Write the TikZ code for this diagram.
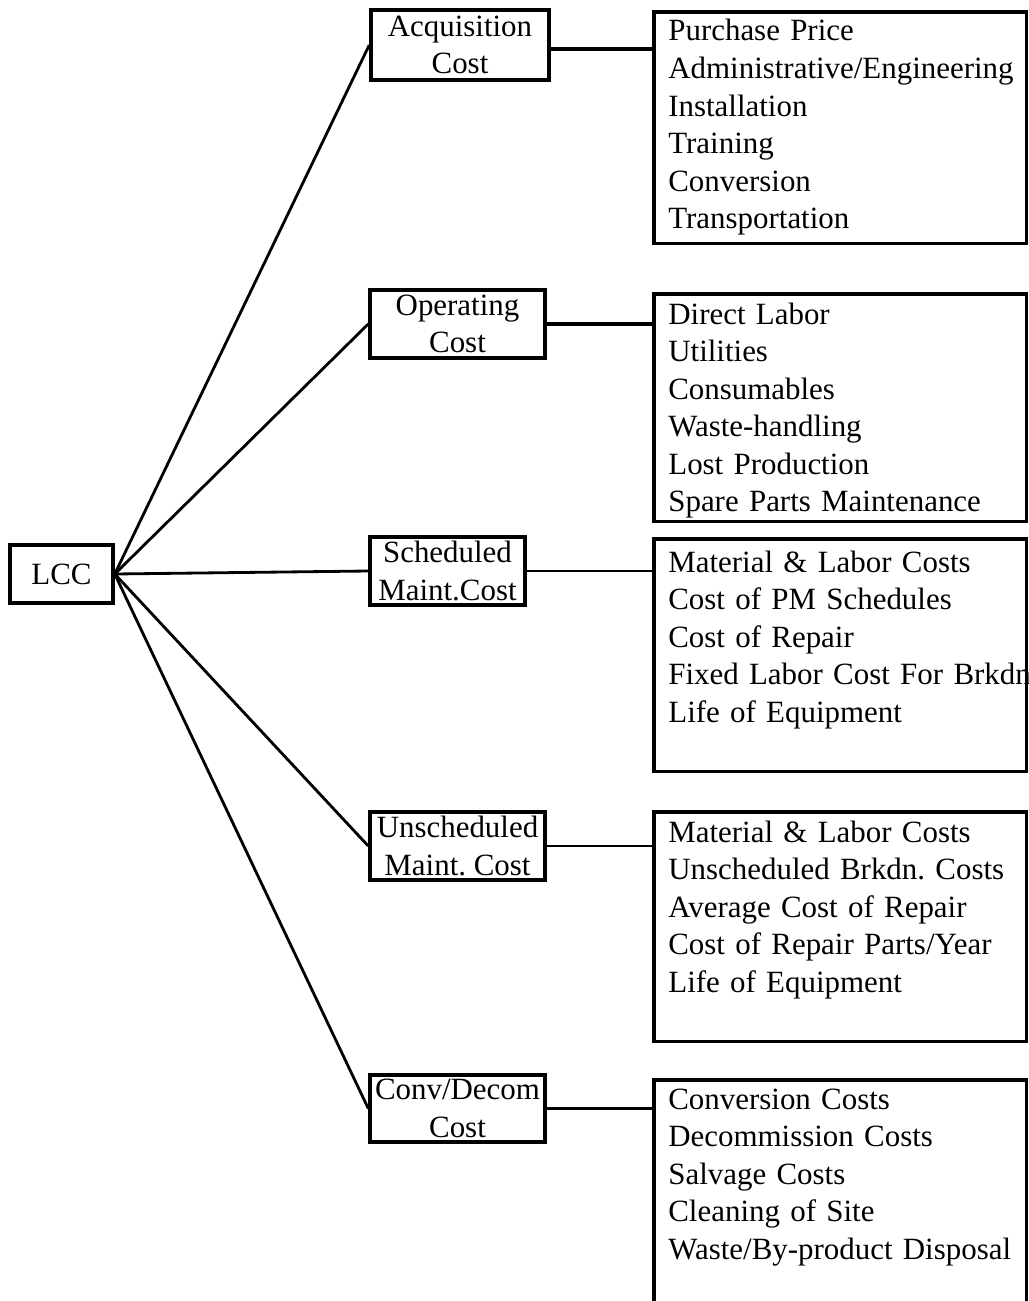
\documentclass[tikz,border=0pt]{standalone}
\usepackage{fontspec}
\setmainfont{Liberation Serif}
\frenchspacing
\usepackage{tikz}
\tikzset{
  every picture/.style={line join=miter, line cap=butt},
  costfont/.style={font=\fontsize{17.6}{21.4}\selectfont},
  rootbox/.style={draw, line width=2pt, costfont, inner sep=0pt, minimum width=2.06cm, minimum height=1.16cm},
  branchbox/.style={draw, line width=2pt, costfont, inner sep=0pt, align=center, minimum height=1.36cm},
  listbox/.style={draw, line width=2pt, anchor=north west, inner sep=0pt, minimum width=7.46cm},
  items/.style={costfont, anchor=base west, inner sep=0pt, text width=9cm, align=left},
  spoke/.style={line width=1.6pt},
  thickjoin/.style={line width=2pt},
  thinjoin/.style={line width=0.8pt},
}

\begin{document}
\begin{tikzpicture}[x=0.02cm,y=-0.02cm]
\useasboundingbox (0,0) rectangle (1028,1301);
\node[rootbox] (lcc) at (61.5,574) {LCC};
\node[branchbox, minimum width=3.56cm, minimum height=1.4cm] (acq) at (460,45) {Acquisition\\Cost};
\node[branchbox, minimum width=3.5cm] (oper) at (457.5,324) {Operating\\Cost};
\node[branchbox, minimum width=3.1cm] (sched) at (447.5,571) {Scheduled\\Maint.Cost};
\node[branchbox, minimum width=3.5cm] (unsched) at (457.5,846) {Unscheduled\\Maint. Cost};
\node[branchbox, minimum width=3.5cm, minimum height=1.34cm] (decom) at (457.5,1108.5) {Conv/Decom\\Cost};

\node[listbox, minimum height=4.64cm] (acqlist) at (652,10) {};
\node[listbox, minimum height=4.56cm] (operlist) at (652,292) {};
\node[listbox, minimum height=4.66cm] (schedlist) at (652,537) {};
\node[listbox, minimum height=4.6cm] (unschedlist) at (652,810) {};
\node[listbox, minimum height=4.84cm] (decomlist) at (652,1078) {};

\node[items] (acqitems) at (668,41) {Purchase Price\\Administrative/Engineering\\Installation\\Training\\Conversion\\Transportation};
\node[items] (operitems) at (668,324) {Direct Labor\\Utilities\\Consumables\\Waste-handling\\Lost Production\\Spare Parts Maintenance};
\node[items] (scheditems) at (668,572) {Material \& Labor Costs\\Cost of PM Schedules\\Cost of Repair\\Fixed Labor Cost For Brkdn\\Life of Equipment};
\node[items] (unscheditems) at (668,842) {Material \& Labor Costs\\Unscheduled Brkdn. Costs\\Average Cost of Repair\\Cost of Repair Parts/Year\\Life of Equipment};
\node[items] (decomitems) at (668,1109) {Conversion Costs\\Decommission Costs\\Salvage Costs\\Cleaning of Site\\Waste/By-product Disposal};

\foreach \b in {acq,oper,sched,unsched,decom}
  \draw[spoke] (lcc.east) -- (\b.west);
\draw[thickjoin] ([yshift=-0.08cm]acq.east) -- ([yshift=-0.08cm]acq.east -| acqlist.west);
\draw[thickjoin] (oper.east) -- (oper.east -| operlist.west);
\draw[thinjoin] (sched.east) -- (sched.east -| schedlist.west);
\draw[thinjoin] (unsched.east) -- (unsched.east -| unschedlist.west);
\draw[thickjoin] (decom.east) -- (decom.east -| decomlist.west);
\end{tikzpicture}
\end{document}
